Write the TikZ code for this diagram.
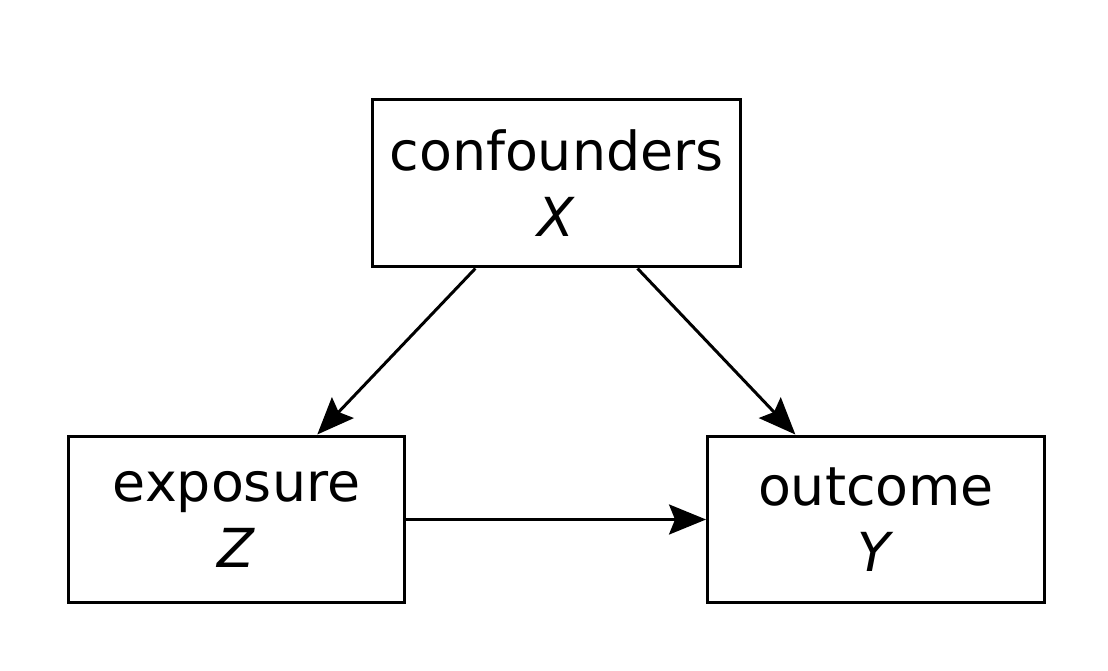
\documentclass[tikz,border=0pt]{standalone}
\usepackage{fontspec}
\setmainfont{DejaVu Sans}
\usepackage{tikz}
\usetikzlibrary{arrows.meta,positioning}

\begin{document}
\begin{tikzpicture}[x=0.02cm, y=-0.02cm,
    box/.style={draw=black, line width=1.7pt, align=center, inner sep=0pt,
        minimum width=6.74cm, minimum height=3.34cm,
        font=\fontsize{30.6}{37.5}\selectfont},
    link/.style={line width=1.7pt, -{Stealth[length=0.74cm, width=0.6cm, inset=0.12cm]}}]
    \useasboundingbox (0,0) rectangle (1108,671);
    \node [box, minimum width=7.38cm, minimum height=3.36cm] (conf) at (556.5,183) {confounders\\\textit{X}};
    \node [box] (expo) at (236.5,519.5) {exposure\\\textit{Z}};
    \node [box] (outc) at (876,519.5) {outcome\\\textit{Y}};
    \draw [link] (conf) -- (expo);
    \draw [link] (conf) -- (outc);
    \draw [link] (expo) -- (outc);
\end{tikzpicture}
\end{document}
